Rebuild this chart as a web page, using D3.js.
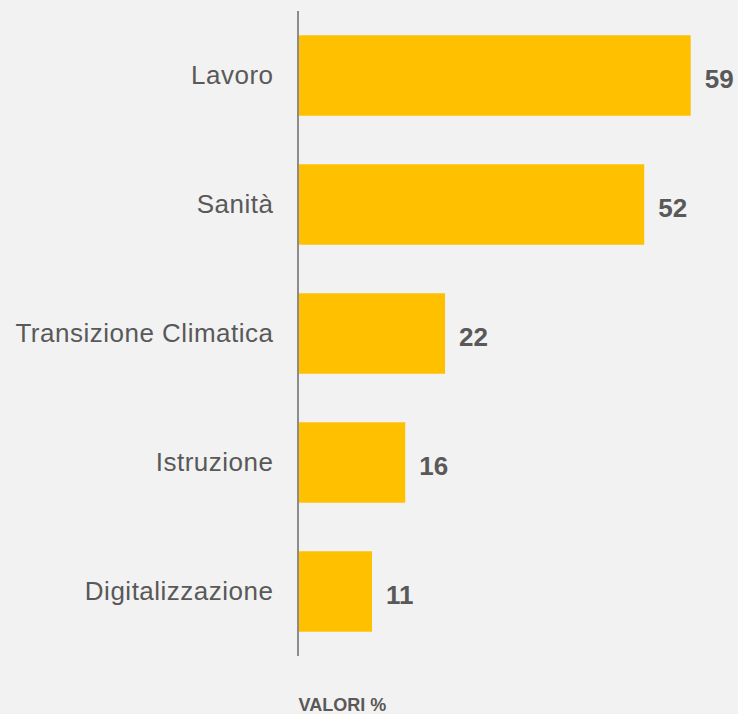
<!DOCTYPE html>
<html><head><meta charset="utf-8">
<script src="https://cdn.jsdelivr.net/npm/d3@7"></script>
<style>body{margin:0;background:#f2f2f2;}svg{display:block;}</style>
</head><body><svg id="c" width="738" height="714"></svg>
<script>
const categories = ["Lavoro","Sanità","Transizione Climatica","Istruzione","Digitalizzazione"];
const values = [59,52,22,16,11];
const unitLabel = "VALORI %";

(function(){
const svg = d3.select("#c");
svg.append("rect").attr("width",738).attr("height",714).attr("fill","#f2f2f2");
const x0 = 299, yTop = 11, yBottom = 656;
const x = d3.scaleLinear().domain([0,59]).range([x0, 690.7]);
const y = d3.scaleBand().domain(categories).range([yTop,yBottom]).paddingInner(0.376).paddingOuter(0.188);
const font = "Liberation Sans, Arial, sans-serif";

svg.selectAll("rect.bar").data(values).enter().append("rect").attr("class","bar")
  .attr("x",x(0)).attr("y",(d,i)=>y(categories[i]))
  .attr("width",d=>x(d)-x(0)).attr("height",y.bandwidth()).attr("fill","#ffc000");

svg.selectAll("text.val").data(values).enter().append("text").attr("class","val")
  .attr("x",d=>x(d)+14).attr("y",(d,i)=>y(categories[i])+y.bandwidth()/2+12)
  .attr("font-family",font).attr("font-weight","bold")
  .attr("font-size",26).attr("fill","#595959").text(d=>d);

svg.selectAll("text.cat").data(categories).enter().append("text").attr("class","cat")
  .attr("x",273.5).attr("y",d=>y(d)+y.bandwidth()/2+8.5).attr("text-anchor","end")
  .attr("font-family",font).attr("font-size",26)
  .attr("letter-spacing","0.5px").attr("fill","#595959").text(d=>d);

svg.append("line").attr("x1",298).attr("x2",298).attr("y1",yTop).attr("y2",yBottom)
  .attr("stroke","#8c8c8c").attr("stroke-width",2);

svg.append("text").attr("x",298.5).attr("y",711).attr("font-family",font)
  .attr("font-weight","bold").attr("font-size",18).attr("fill","#595959").text(unitLabel);
})();
</script></body></html>
